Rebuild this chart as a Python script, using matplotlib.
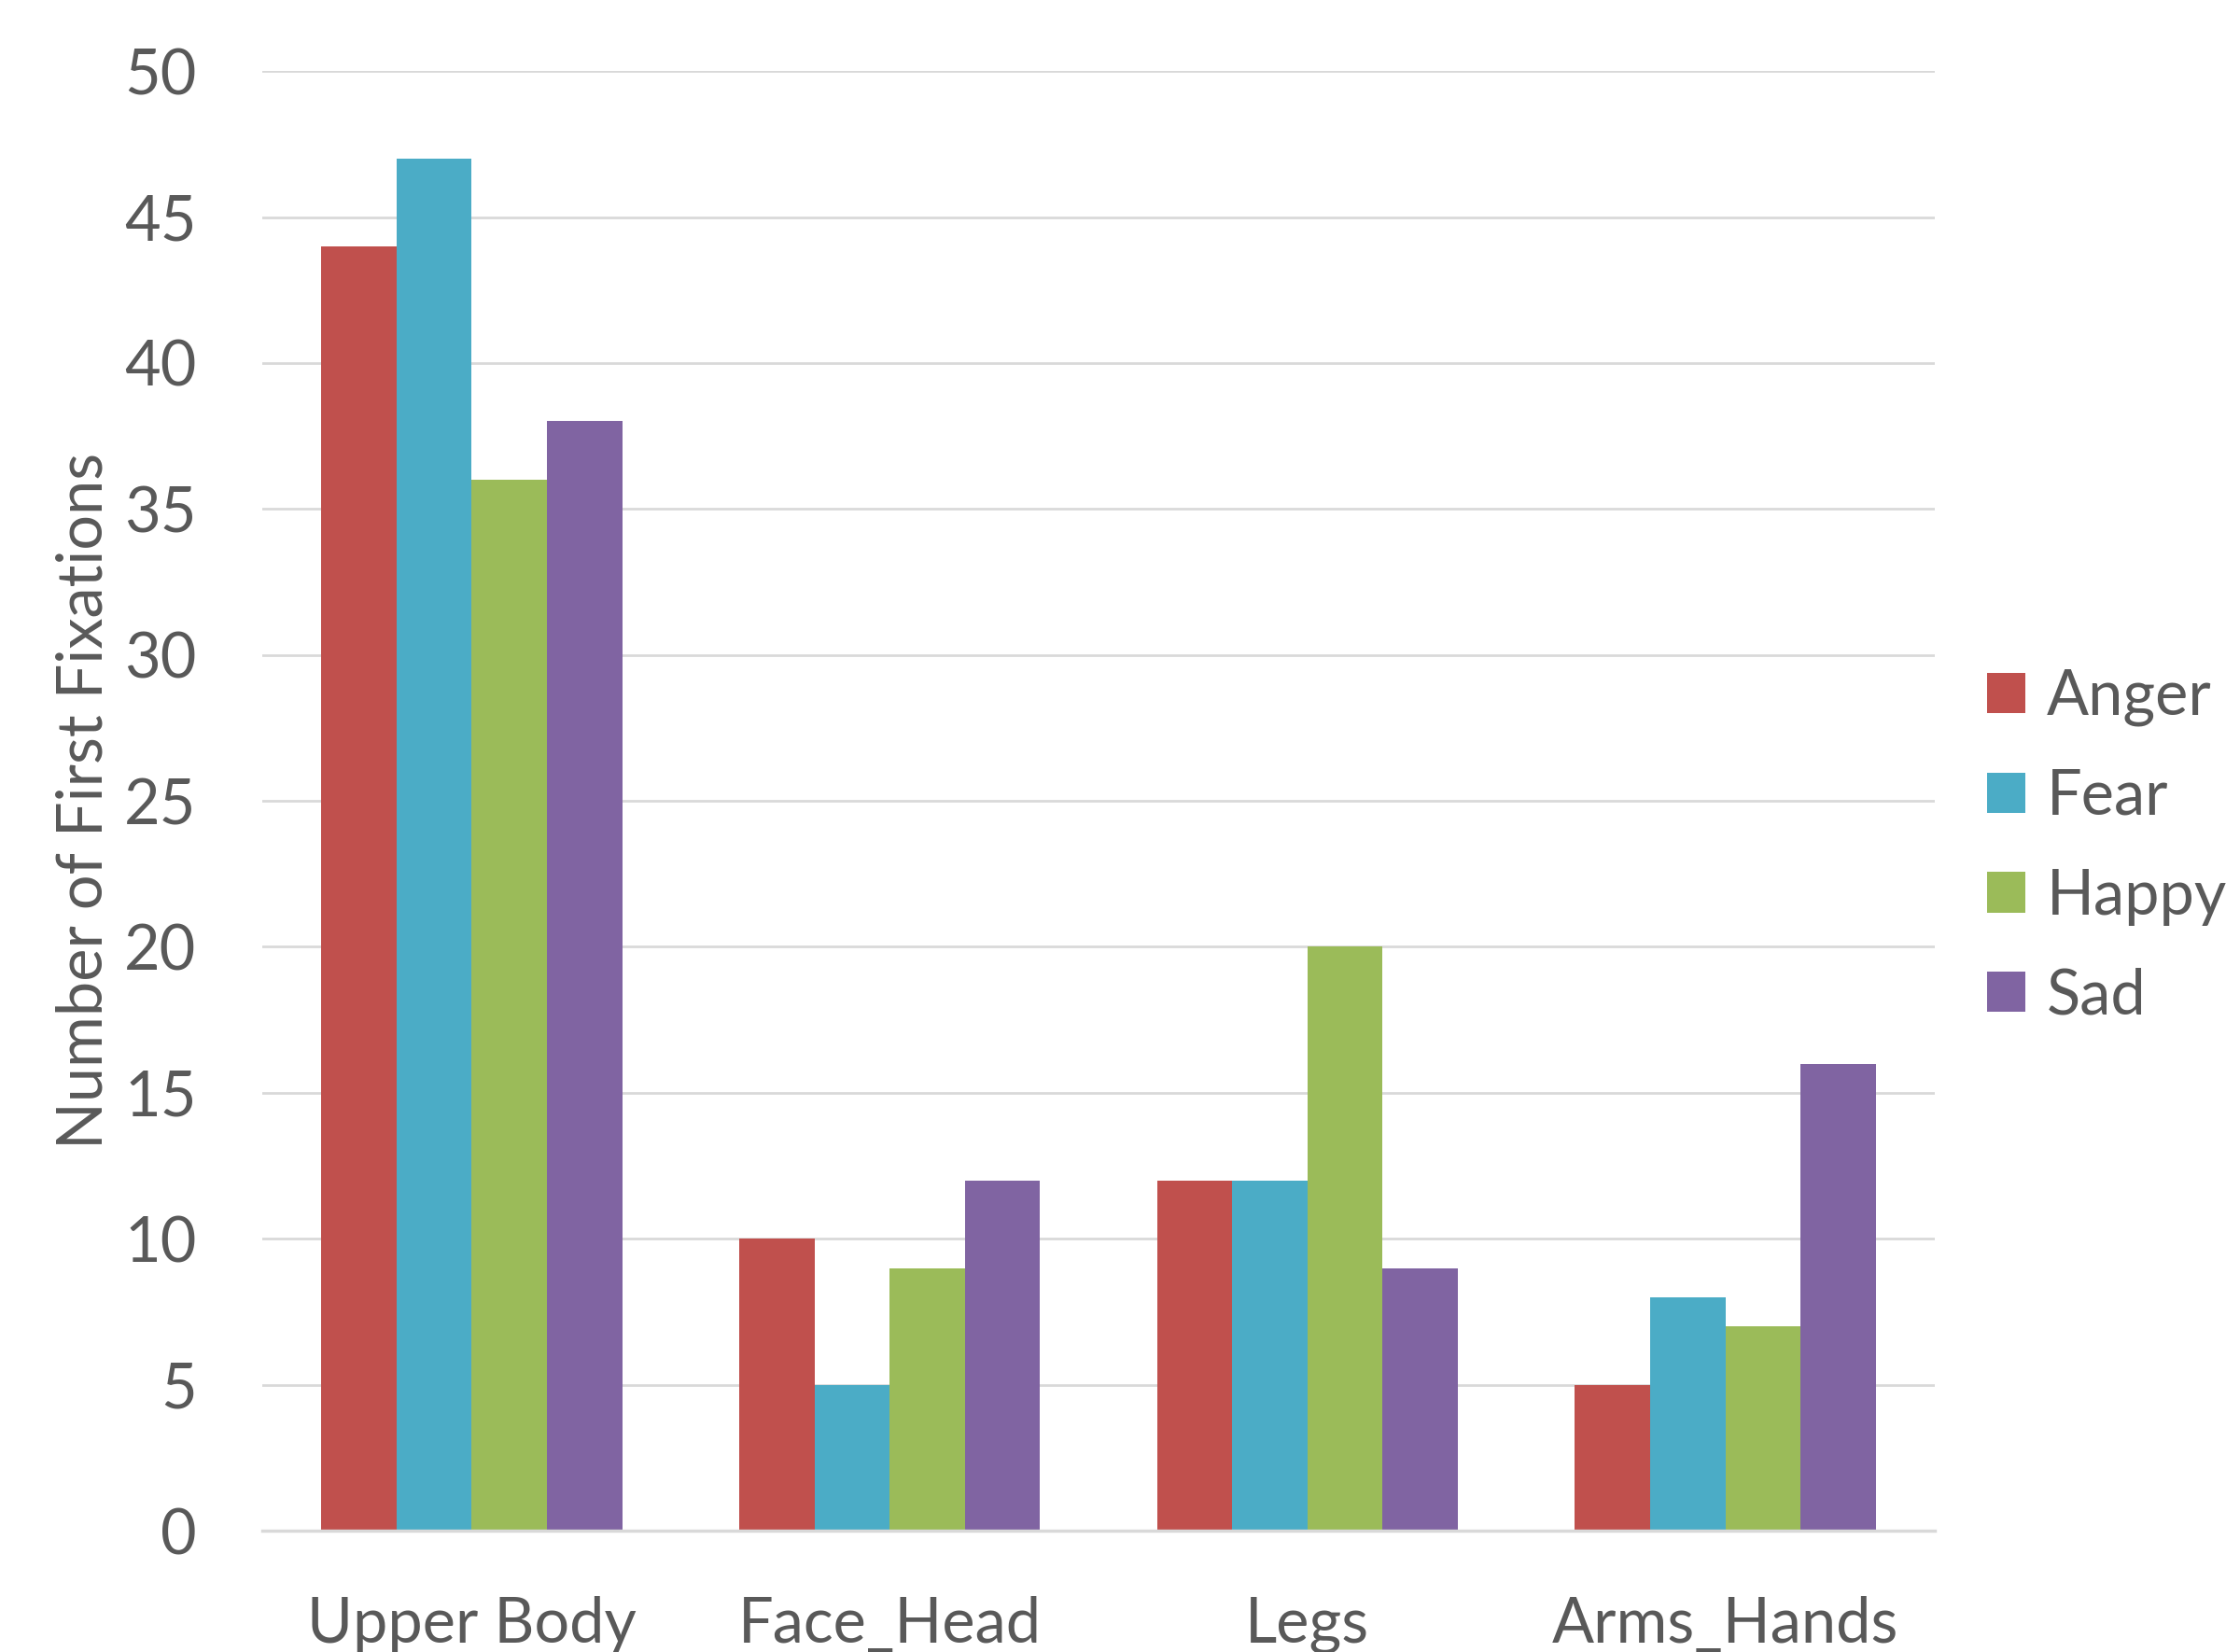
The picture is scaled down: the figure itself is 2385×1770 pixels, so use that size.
import matplotlib
matplotlib.use("Agg")
import matplotlib.pyplot as plt
from matplotlib.patches import Patch
import numpy as np

categories = ["Upper Body", "Face_Head", "Legs", "Arms_Hands"]
series_names = ["Anger", "Fear", "Happy", "Sad"]
anger = [44, 10, 12, 5]
fear = [47, 5, 12, 8]
happy = [36, 9, 20, 7]
sad = [38, 12, 9, 16]
yticks = [0, 5, 10, 15, 20, 25, 30, 35, 40, 45, 50]

colors = ["#C0504D", "#4BACC6", "#9BBB59", "#8064A2"]
text_color = "#595959"
fs = 48

plt.rcParams['font.family'] = ['Lato', 'DejaVu Sans']

fig = plt.figure(figsize=(23.85, 17.7), dpi=100)
ax = fig.add_axes([0.118, 0.0734, 0.751, 0.8836])

x = np.arange(len(categories))
w = 0.18
data = [anger, fear, happy, sad]
for i, (vals, c, name) in enumerate(zip(data, colors, series_names)):
    ax.bar(x + (i - 1.5) * w, vals, width=w, color=c, label=name, zorder=3)

ax.set_xlim(-0.5, len(categories) - 0.5)
ax.set_ylim(0, 50)
ax.set_yticks(yticks)
ax.set_yticklabels([str(t) for t in yticks], fontsize=fs, color=text_color)
ax.set_xticks(x)
ax.set_xticklabels(categories, fontsize=fs, color=text_color)
ax.tick_params(axis='both', length=0)
ax.tick_params(axis='y', pad=51)
ax.tick_params(axis='x', pad=50)
ax.yaxis.grid(True, color="#D9D9D9", linewidth=2, zorder=0)
ax.set_axisbelow(True)
for s in ["top", "right", "left"]:
    ax.spines[s].set_visible(False)
ax.spines["bottom"].set_color("#D9D9D9")
ax.spines["bottom"].set_linewidth(2.5)
ax.spines["bottom"].set_zorder(4)

ax.set_ylabel("Number of First Fixations", fontsize=fs, color=text_color, labelpad=8)

handles = [Patch(facecolor=c, edgecolor='none') for c in colors]
leg = fig.legend(handles, series_names, loc='center left', bbox_to_anchor=(0.8925, 0.4876),
                 frameon=False, fontsize=fs, labelcolor=text_color,
                 handlelength=0.62, handleheight=0.62, handletextpad=0.35,
                 labelspacing=0.67, borderpad=0, borderaxespad=0)

fig.savefig("out.png", dpi=100)
